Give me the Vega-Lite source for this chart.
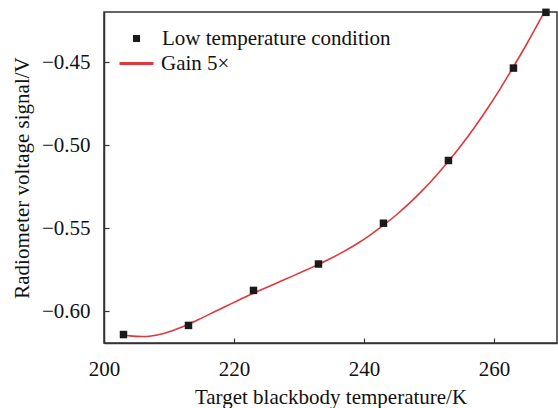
{
  "$schema": "https://vega.github.io/schema/vega-lite/v6.json",
  "autosize": "none",
  "width": 453,
  "height": 331,
  "padding": {"left": 104, "top": 12, "right": 1, "bottom": 65},
  "background": "white",
  "config": {
    "font": "Liberation Serif, Times New Roman, serif",
    "view": {"stroke": "#333333", "strokeWidth": 1.5},
    "axis": {
      "labelFont": "Liberation Serif, Times New Roman, serif",
      "titleFont": "Liberation Serif, Times New Roman, serif",
      "labelFontSize": 21,
      "titleFontSize": 21,
      "labelColor": "#111111",
      "titleColor": "#111111",
      "titleFontWeight": "normal",
      "domainColor": "#333333",
      "domainWidth": 1.5,
      "tickColor": "#333333",
      "tickWidth": 1.2,
      "grid": false
    },
    "legend": {
      "labelFont": "Liberation Serif, Times New Roman, serif",
      "labelFontSize": 21,
      "labelColor": "#111111",
      "labelLimit": 400
    }
  },
  "datasets": {
    "points": [
      {"T": 203, "V": -0.614, "series": "Low temperature condition"},
      {"T": 213, "V": -0.6085, "series": "Low temperature condition"},
      {"T": 223, "V": -0.5874, "series": "Low temperature condition"},
      {"T": 233, "V": -0.5715, "series": "Low temperature condition"},
      {"T": 243, "V": -0.5469, "series": "Low temperature condition"},
      {"T": 253, "V": -0.5091, "series": "Low temperature condition"},
      {"T": 263, "V": -0.4534, "series": "Low temperature condition"},
      {"T": 268, "V": -0.4198, "series": "Low temperature condition"}
    ],
    "curve": [
      {"T": 203, "V": -0.6143, "series": "Gain 5×"},
      {"T": 204, "V": -0.6148, "series": "Gain 5×"},
      {"T": 205, "V": -0.6151, "series": "Gain 5×"},
      {"T": 206, "V": -0.6152, "series": "Gain 5×"},
      {"T": 207, "V": -0.615, "series": "Gain 5×"},
      {"T": 208, "V": -0.6144, "series": "Gain 5×"},
      {"T": 209, "V": -0.6135, "series": "Gain 5×"},
      {"T": 210, "V": -0.6123, "series": "Gain 5×"},
      {"T": 211, "V": -0.6109, "series": "Gain 5×"},
      {"T": 212, "V": -0.6094, "series": "Gain 5×"},
      {"T": 213, "V": -0.6078, "series": "Gain 5×"},
      {"T": 215, "V": -0.6041, "series": "Gain 5×"},
      {"T": 217, "V": -0.6003, "series": "Gain 5×"},
      {"T": 219, "V": -0.5965, "series": "Gain 5×"},
      {"T": 221, "V": -0.5927, "series": "Gain 5×"},
      {"T": 223, "V": -0.5891, "series": "Gain 5×"},
      {"T": 225, "V": -0.5856, "series": "Gain 5×"},
      {"T": 227, "V": -0.5822, "series": "Gain 5×"},
      {"T": 229, "V": -0.5788, "series": "Gain 5×"},
      {"T": 231, "V": -0.5753, "series": "Gain 5×"},
      {"T": 233, "V": -0.5717, "series": "Gain 5×"},
      {"T": 235, "V": -0.5679, "series": "Gain 5×"},
      {"T": 237, "V": -0.5637, "series": "Gain 5×"},
      {"T": 239, "V": -0.5591, "series": "Gain 5×"},
      {"T": 241, "V": -0.5539, "series": "Gain 5×"},
      {"T": 243, "V": -0.5481, "series": "Gain 5×"},
      {"T": 245, "V": -0.5418, "series": "Gain 5×"},
      {"T": 247, "V": -0.5348, "series": "Gain 5×"},
      {"T": 249, "V": -0.5271, "series": "Gain 5×"},
      {"T": 251, "V": -0.5187, "series": "Gain 5×"},
      {"T": 253, "V": -0.5096, "series": "Gain 5×"},
      {"T": 255, "V": -0.4998, "series": "Gain 5×"},
      {"T": 257, "V": -0.4892, "series": "Gain 5×"},
      {"T": 259, "V": -0.4778, "series": "Gain 5×"},
      {"T": 261, "V": -0.4656, "series": "Gain 5×"},
      {"T": 263, "V": -0.4526, "series": "Gain 5×"},
      {"T": 265, "V": -0.4392, "series": "Gain 5×"},
      {"T": 267, "V": -0.425, "series": "Gain 5×"},
      {"T": 268, "V": -0.4178, "series": "Gain 5×"}
    ]
  },
  "encoding": {
    "x": {
      "field": "T",
      "type": "quantitative",
      "scale": {"domain": [200, 269.7], "nice": false, "zero": false},
      "axis": {
        "title": "Target blackbody temperature/K",
        "values": [200, 220, 240, 260],
        "tickSize": -5,
        "labelPadding": 20,
        "titlePadding": 7,
        "labelFlush": false
      }
    },
    "y": {
      "field": "V",
      "type": "quantitative",
      "scale": {"domain": [-0.6191, -0.4196], "nice": false, "zero": false},
      "axis": {
        "title": "Radiometer voltage signal/V",
        "values": [-0.6, -0.55, -0.5, -0.45],
        "format": ".2f",
        "tickSize": -5,
        "labelPadding": 19,
        "titlePadding": 9,
        "labelFlush": false
      }
    }
  },
  "layer": [
    {
      "data": {"name": "curve"},
      "mark": {"type": "line", "strokeWidth": 1.6, "interpolate": "monotone", "clip": true},
      "encoding": {
        "color": {
          "field": "series",
          "type": "nominal",
          "scale": {"domain": ["Gain 5×"], "range": ["#e0383a"]},
          "legend": {
            "title": null,
            "orient": "none",
            "legendX": 14,
            "legendY": 33,
            "symbolSize": 1156,
            "symbolStrokeWidth": 3,
            "labelOffset": 6
          }
        }
      }
    },
    {
      "data": {"name": "points"},
      "mark": {"type": "point", "filled": true, "color": "#1a1a1a", "size": 56, "opacity": 1, "clip": false},
      "encoding": {
        "shape": {
          "field": "series",
          "type": "nominal",
          "scale": {"domain": ["Low temperature condition"], "range": ["square"]},
          "legend": {
            "title": null,
            "orient": "none",
            "legendX": 22,
            "legendY": 16,
            "symbolSize": 50,
            "symbolFillColor": "#1a1a1a",
            "symbolStrokeColor": "#1a1a1a",
            "symbolOpacity": 1,
            "labelOffset": 15
          }
        }
      }
    }
  ]
}
